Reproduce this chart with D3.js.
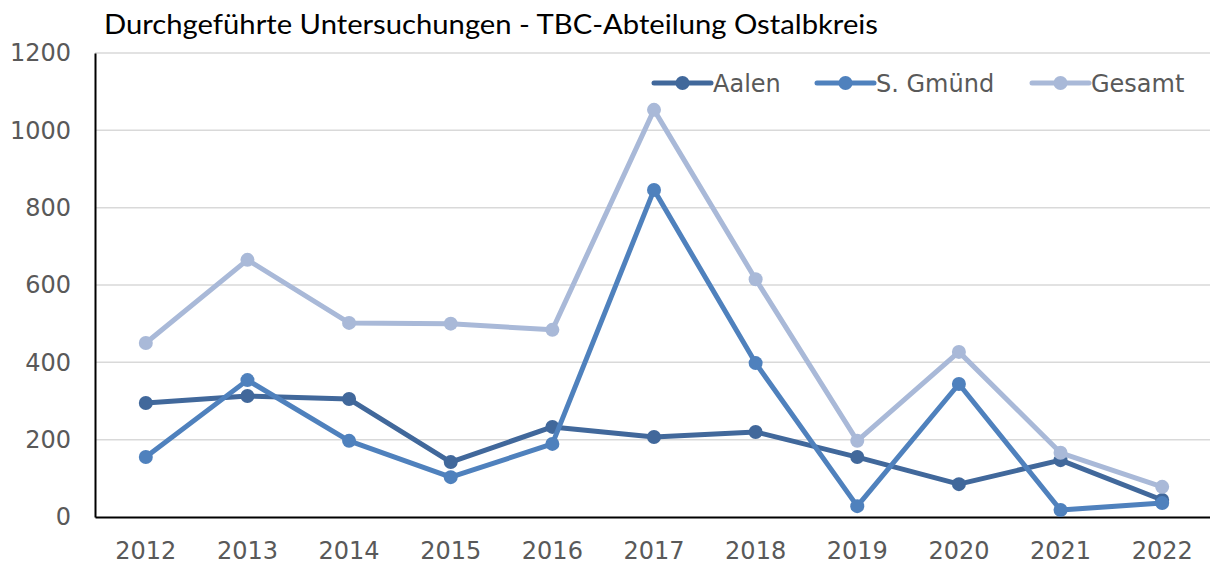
<!DOCTYPE html>
<html><head><meta charset="utf-8">
<script src="https://cdn.jsdelivr.net/npm/d3@7"></script>
<style>body{margin:0;background:#fff}svg{display:block}</style>
</head><body><svg id="c" width="1210" height="564"></svg>
<script>
const years = ["2012","2013","2014","2015","2016","2017","2018","2019","2020","2021","2022"];
const aalen = [295, 313, 305, 142, 233, 207, 220, 155, 85, 147, 44];
const gmuend = [155, 354, 197, 103, 189, 846, 398, 28, 344, 18, 36];
const gesamt = [450, 665, 502, 500, 484, 1053, 615, 197, 427, 166, 78];
const seriesNames = ["Aalen", "S. Gmünd", "Gesamt"];
const yTicks = [0, 200, 400, 600, 800, 1000, 1200];
const title = "Durchgeführte Untersuchungen - TBC-Abteilung Ostalbkreis";

const colors = ["#41689b", "#4f81bd", "#a9b9d8"];
const svg = d3.select("#c");
const x = d3.scaleBand().domain(years).range([95, 1213]);
const y = d3.scaleLinear().domain([0, 1200]).range([517, 53]);
const tickFont = "'DejaVu Sans', sans-serif";

// gridlines
svg.append("g").selectAll("line").data(yTicks.filter(d => d > 0)).join("line")
  .attr("x1", 95).attr("x2", 1210).attr("y1", d => y(d)).attr("y2", d => y(d))
  .attr("stroke", "#d9d9d9").attr("stroke-width", 1.5);

// y axis
const yAxis = svg.append("g").attr("transform", "translate(95,0)")
  .call(d3.axisLeft(y).tickValues(yTicks).tickFormat(d3.format("d")).tickSize(0).tickPadding(24));
yAxis.select(".domain").attr("stroke", "#000").attr("stroke-width", 2);
yAxis.selectAll("text").attr("font-family", tickFont).attr("font-size", 24).attr("fill", "#595959");

// x axis
const xAxis = svg.append("g").attr("transform", "translate(0,517)")
  .call(d3.axisBottom(x).tickSize(0).tickPadding(25));
xAxis.select(".domain").attr("stroke", "#000").attr("stroke-width", 2);
xAxis.selectAll("text").attr("font-family", tickFont).attr("font-size", 24).attr("fill", "#595959");

const data = [aalen, gmuend, gesamt];
const cx = d => x(d) + x.bandwidth() / 2;
const line = d3.line().x((d, i) => cx(years[i])).y(d => y(d));
data.forEach((vals, s) => {
  const g = svg.append("g");
  g.append("path").datum(vals).attr("d", line).attr("fill", "none")
    .attr("stroke", colors[s]).attr("stroke-width", 5).attr("stroke-linejoin", "round");
  g.selectAll("circle").data(vals).join("circle")
    .attr("cx", (d, i) => cx(years[i])).attr("cy", d => y(d)).attr("r", 7)
    .attr("fill", colors[s]);
});

// legend
const legX = [654, 817, 1032];
seriesNames.forEach((n, i) => {
  const g = svg.append("g").attr("transform", `translate(${legX[i]},83)`);
  g.append("line").attr("x1", 0).attr("x2", 57).attr("stroke", colors[i]).attr("stroke-width", 5).attr("stroke-linecap", "round");
  g.append("circle").attr("cx", 28.5).attr("r", 7).attr("fill", colors[i]);
  g.append("text").attr("x", 59).attr("y", 9).text(n)
    .attr("font-family", tickFont).attr("font-size", 24).attr("fill", "#595959");
});

// title
svg.append("text").attr("x", 104).attr("y", 34).text(title)
  .attr("textLength", 774).attr("lengthAdjust", "spacingAndGlyphs")
  .attr("font-family", "Lato, 'Open Sans', sans-serif").attr("font-size", 27).attr("fill", "#000");
</script></body></html>
